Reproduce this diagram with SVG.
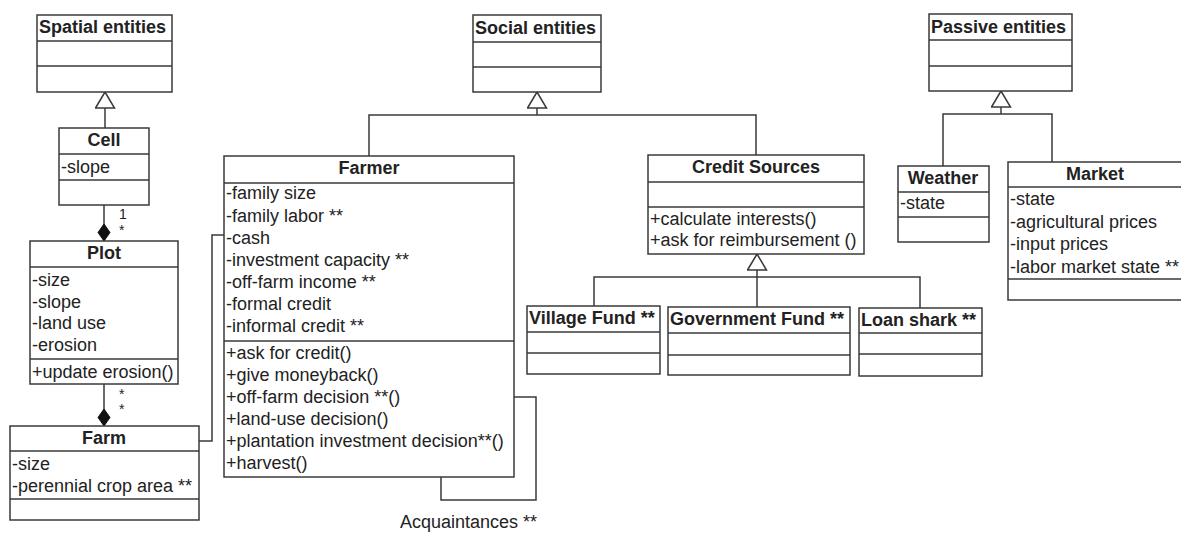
<svg xmlns="http://www.w3.org/2000/svg" width="1181" height="533" viewBox="0 0 1181 533">
<style>
.box{fill:#fff;stroke:#3a3a3a;stroke-width:1.5}
.div{stroke:#3a3a3a;stroke-width:1.5;fill:none}
.con{stroke:#3a3a3a;stroke-width:1.5;fill:none}
text{font-family:"Liberation Sans",Arial,sans-serif;font-size:18px;fill:#222}
.b{font-weight:bold}
.c{text-anchor:middle}
.s{font-size:14px}
</style>
<defs>
<marker id="gen" markerUnits="userSpaceOnUse" markerWidth="20" markerHeight="22" viewBox="0 0 18 22" refX="17" refY="10" orient="auto">
<path d="M1,0.5 L17,10 L1,19.5 Z" fill="#fff" stroke="#3a3a3a" stroke-width="1.5"/>
</marker>
<marker id="comp" markerUnits="userSpaceOnUse" markerWidth="20" markerHeight="14" viewBox="0 0 20 14" refX="18" refY="7" orient="auto">
<path d="M1,7 L9.5,1 L18,7 L9.5,13 Z" fill="#111" stroke="#111" stroke-width="1"/>
</marker>
</defs>

<g id="connectors">
<path class="con" d="M105,128 V92" marker-end="url(#gen)"/>
<path class="con" d="M104,205 V241" marker-end="url(#comp)"/>
<path class="con" d="M104,384 V426" marker-end="url(#comp)"/>
<path class="con" d="M199,441 H212 V235 H224"/>
<path class="con" d="M369,156 V115 H756 V155"/>
<path class="con" d="M537,115 V92" marker-end="url(#gen)"/>
<path class="con" d="M594,306 V277 H920 V308"/>
<path class="con" d="M757,307 V254" marker-end="url(#gen)"/>
<path class="con" d="M943,166 V114 H1052 V162"/>
<path class="con" d="M1001,114 V91" marker-end="url(#gen)"/>
<path class="con" d="M514,397 H536 V500 H441 V477"/>
<text x="119" y="219" class="s">1</text>
<text x="119" y="235" class="s">*</text>
<text x="119" y="399" class="s">*</text>
<text x="119" y="414" class="s">*</text>
<text x="400" y="528">Acquaintances **</text>
</g>

<g id="spatial-entities">
<rect class="box" x="37" y="15" width="135" height="77"/>
<path class="div" d="M37,41 H172 M37,66 H172"/>
<text x="39" y="33" class="b">Spatial entities</text>
</g>

<g id="cell">
<rect class="box" x="59" y="128" width="90" height="77"/>
<path class="div" d="M59,154 H149 M59,180 H149"/>
<text x="104" y="146" class="b c">Cell</text>
<text x="61" y="173">-slope</text>
</g>

<g id="plot">
<rect class="box" x="30" y="241" width="148" height="143"/>
<path class="div" d="M30,267 H178 M30,359 H178"/>
<text x="104" y="259" class="b c">Plot</text>
<text x="32" y="286">-size</text>
<text x="32" y="308">-slope</text>
<text x="32" y="329">-land use</text>
<text x="32" y="351">-erosion</text>
<text x="32" y="378">+update erosion()</text>
</g>

<g id="farm">
<rect class="box" x="10" y="426" width="189" height="94"/>
<path class="div" d="M10,451 H199 M10,499 H199"/>
<text x="104" y="444" class="b c">Farm</text>
<text x="12" y="470">-size</text>
<text x="12" y="492">-perennial crop area **</text>
</g>

<g id="farmer">
<rect class="box" x="224" y="156" width="290" height="321"/>
<path class="div" d="M224,183 H514 M224,341 H514"/>
<text x="369" y="174" class="b c">Farmer</text>
<text x="226" y="199">-family size</text>
<text x="226" y="222">-family labor **</text>
<text x="226" y="244">-cash</text>
<text x="226" y="266">-investment capacity **</text>
<text x="226" y="288">-off-farm income **</text>
<text x="226" y="310">-formal credit</text>
<text x="226" y="332">-informal credit **</text>
<text x="226" y="359">+ask for credit()</text>
<text x="226" y="381">+give moneyback()</text>
<text x="226" y="403">+off-farm decision **()</text>
<text x="226" y="425">+land-use decision()</text>
<text x="226" y="447">+plantation investment decision**()</text>
<text x="226" y="469">+harvest()</text>
</g>

<g id="social-entities">
<rect class="box" x="473" y="15" width="128" height="77"/>
<path class="div" d="M473,42 H601 M473,67 H601"/>
<text x="475" y="34" class="b">Social entities</text>
</g>

<g id="credit-sources">
<rect class="box" x="648" y="155" width="216" height="99"/>
<path class="div" d="M648,182 H864 M648,207 H864"/>
<text x="756" y="173" class="b c">Credit Sources</text>
<text x="650" y="225">+calculate interests()</text>
<text x="650" y="246">+ask for reimbursement ()</text>
</g>

<g id="village-fund">
<rect class="box" x="527" y="306" width="133" height="68"/>
<path class="div" d="M527,332 H660 M527,353 H660"/>
<text x="529" y="324" class="b">Village Fund **</text>
</g>

<g id="government-fund">
<rect class="box" x="668" y="307" width="182" height="68"/>
<path class="div" d="M668,333 H850 M668,355 H850"/>
<text x="670" y="325" class="b">Government Fund **</text>
</g>

<g id="loan-shark">
<rect class="box" x="859" y="308" width="123" height="68"/>
<path class="div" d="M859,333 H982 M859,354 H982"/>
<text x="861" y="326" class="b">Loan shark **</text>
</g>

<g id="passive-entities">
<rect class="box" x="929" y="14" width="143" height="77"/>
<path class="div" d="M929,40 H1072 M929,66 H1072"/>
<text x="931" y="33" class="b">Passive entities</text>
</g>

<g id="weather">
<rect class="box" x="898" y="166" width="91" height="76"/>
<path class="div" d="M898,192 H989 M898,217 H989"/>
<text x="943" y="184" class="b c">Weather</text>
<text x="900" y="209">-state</text>
</g>

<g id="market">
<rect class="box" x="1008" y="162" width="175" height="138"/>
<path class="div" d="M1008,187 H1183 M1008,279 H1183"/>
<text x="1095" y="180" class="b c">Market</text>
<text x="1010" y="205">-state</text>
<text x="1010" y="228">-agricultural prices</text>
<text x="1010" y="250">-input prices</text>
<text x="1010" y="273">-labor market state **</text>
</g>
</svg>
